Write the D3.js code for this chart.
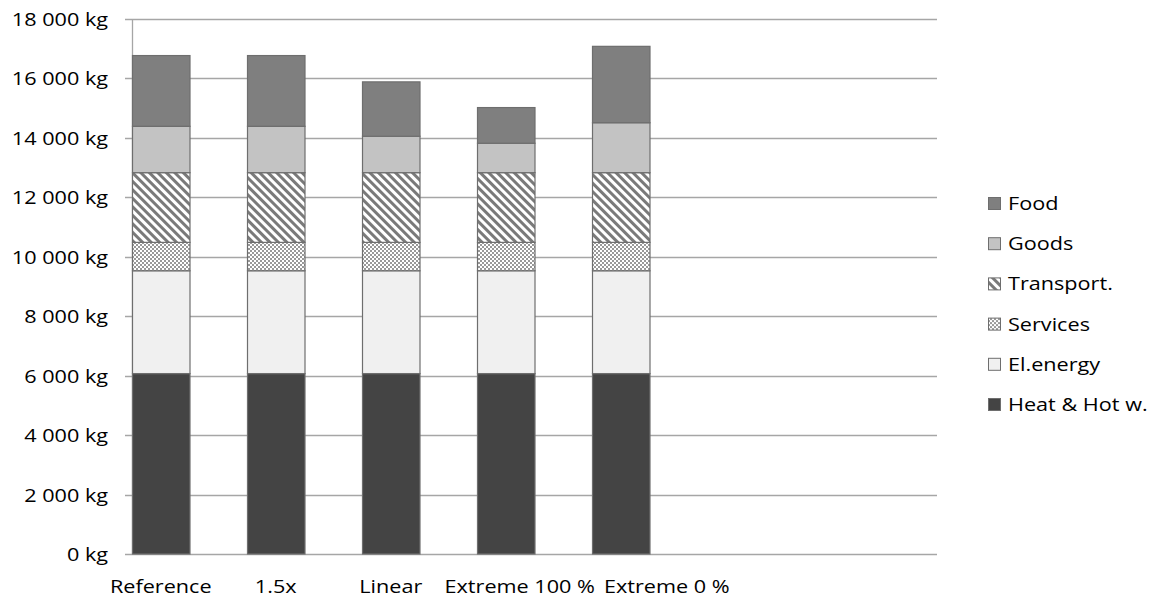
<!DOCTYPE html>
<html>
<head>
<meta charset="utf-8">
<script src="https://cdn.jsdelivr.net/npm/d3@7"></script>
<style>
  html, body { margin: 0; padding: 0; background: #fff; }
  svg { display: block; }
  text { font-family: "Open Sans", sans-serif; fill: #000; }
</style>
</head>
<body>
<svg id="chart" width="1161" height="601"></svg>
<script>
// Scenario names along the category axis (two trailing empty slots)
const categories = ["Reference", "1.5x", "Linear", "Extreme 100 %", "Extreme 0 %"];
const slotCount = 7;

// Emissions per category, kg CO2-eq
const heatHotWater = [6070, 6070, 6070, 6070, 6070];
const elEnergy     = [3460, 3460, 3460, 3460, 3460];
const services     = [955, 955, 955, 955, 955];
const transport    = [2345, 2345, 2345, 2345, 2345];
const goods        = [1560, 1560, 1225, 990, 1680];
const food         = [2380, 2380, 1830, 1200, 2570];

const seriesNames = ["Heat & Hot w.", "El.energy", "Services", "Transport.", "Goods", "Food"];
const yTicks = [0, 2000, 4000, 6000, 8000, 10000, 12000, 14000, 16000, 18000];

const seriesValues = [heatHotWater, elEnergy, services, transport, goods, food];
const rows = categories.map((c, i) => {
  const r = { idx: i };
  seriesNames.forEach((s, k) => { r[s] = seriesValues[k][i]; });
  return r;
});

const svg = d3.select("#chart");
const fontSize = 18.5;
const sx = 1.17; // horizontal text stretch

const plot = { left: 132, right: 937, top: 19, bottom: 554, gridStart: 125 };

// Long labels at the end of the axis are spread right so they don't collide (px)
const labelNudge = [0, 0, 0, 14, 46];

const x = d3.scaleBand()
  .domain(d3.range(slotCount))
  .range([plot.left, plot.right])
  .paddingInner(0.5)
  .paddingOuter(0.25)
  .align(0);

const y = d3.scaleLinear().domain([0, 18000]).range([plot.bottom, plot.top]);

const locale = d3.formatLocale({ decimal: ",", thousands: "\u00a0", grouping: [3], currency: ["", ""] });
const fmt = locale.format(",d");

// Fill patterns
const defs = svg.append("defs");
const stripes = defs.append("pattern")
  .attr("id", "pat-transport")
  .attr("patternUnits", "userSpaceOnUse")
  .attr("width", 6).attr("height", 6)
  .attr("patternTransform", "rotate(-45)");
stripes.append("rect").attr("width", 6).attr("height", 6).attr("fill", "#ffffff");
stripes.append("rect").attr("width", 3).attr("height", 6).attr("fill", "#7a7a7a");

const checks = defs.append("pattern")
  .attr("id", "pat-services")
  .attr("patternUnits", "userSpaceOnUse")
  .attr("width", 4).attr("height", 4);
checks.append("rect").attr("width", 4).attr("height", 4).attr("fill", "#ffffff");
checks.append("rect").attr("width", 2).attr("height", 2).attr("fill", "#999999");
checks.append("rect").attr("x", 2).attr("y", 2).attr("width", 2).attr("height", 2).attr("fill", "#999999");

const fills = {
  "Heat & Hot w.": "#444444",
  "El.energy": "#f0f0f0",
  "Services": "url(#pat-services)",
  "Transport.": "url(#pat-transport)",
  "Goods": "#c3c3c3",
  "Food": "#7f7f7f"
};

// Gridlines (extend to the left tick stubs)
svg.append("g").selectAll("line")
  .data(yTicks)
  .join("line")
  .attr("x1", plot.gridStart).attr("x2", plot.right)
  .attr("y1", d => Math.round(y(d)) + 0.5).attr("y2", d => Math.round(y(d)) + 0.5)
  .attr("stroke", "#a6a6a6").attr("stroke-width", 1.3);

// Value axis line
svg.append("line")
  .attr("x1", plot.left + 0.5).attr("x2", plot.left + 0.5)
  .attr("y1", y(18000)).attr("y2", y(0))
  .attr("stroke", "#a6a6a6").attr("stroke-width", 1.3);

// Y tick labels
const yAxis = svg.append("g")
  .attr("transform", `translate(${plot.left},0)`)
  .call(d3.axisLeft(y).tickValues(yTicks).tickSize(0).tickFormat(d => fmt(d) + " kg"));
yAxis.select(".domain").remove();
yAxis.selectAll("text")
  .attr("x", -24 / sx)
  .attr("dy", "0.35em")
  .attr("transform", `scale(${sx},1)`)
  .style("font-family", "'Open Sans', sans-serif")
  .style("font-size", fontSize + "px")
  .attr("fill", "#000");

// Stacked bars
const stack = d3.stack().keys(seriesNames);
const layers = stack(rows);

svg.append("g").selectAll("g")
  .data(layers)
  .join("g")
  .attr("fill", d => fills[d.key])
  .selectAll("rect")
  .data(d => d)
  .join("rect")
  .attr("x", d => x(d.data.idx) + 0.5)
  .attr("width", x.bandwidth())
  .attr("y", d => y(d[1]))
  .attr("height", d => y(d[0]) - y(d[1]))
  .attr("stroke", "#6e6e6e")
  .attr("stroke-width", 1.2);

// Category axis labels
const xAxis = svg.append("g")
  .attr("transform", `translate(0,${plot.bottom})`)
  .call(d3.axisBottom(x).tickSize(0).tickFormat(i => categories[i] || ""));
xAxis.select(".domain").remove();
xAxis.selectAll("text")
  .attr("y", 39)
  .attr("dy", 0)
  .attr("x", i => (labelNudge[i] || 0) / sx)
  .attr("transform", `scale(${sx},1)`)
  .style("font-family", "'Open Sans', sans-serif")
  .style("font-size", fontSize + "px")
  .attr("fill", "#000");

// Legend (top entry is the top of the stack)
const legendOrder = seriesNames.slice().reverse();
const legend = svg.append("g");
const item = legend.selectAll("g")
  .data(legendOrder)
  .join("g")
  .attr("transform", (d, i) => `translate(988,${203.5 + i * 40.2})`);
item.append("rect")
  .attr("x", 0.5).attr("y", -6)
  .attr("width", 12).attr("height", 12)
  .attr("fill", d => fills[d])
  .attr("stroke", "#6e6e6e").attr("stroke-width", 1);
item.append("text")
  .attr("transform", `translate(20,0) scale(${sx},1)`)
  .attr("dy", "0.35em")
  .style("font-size", fontSize + "px")
  .text(d => d);
</script>
</body>
</html>
